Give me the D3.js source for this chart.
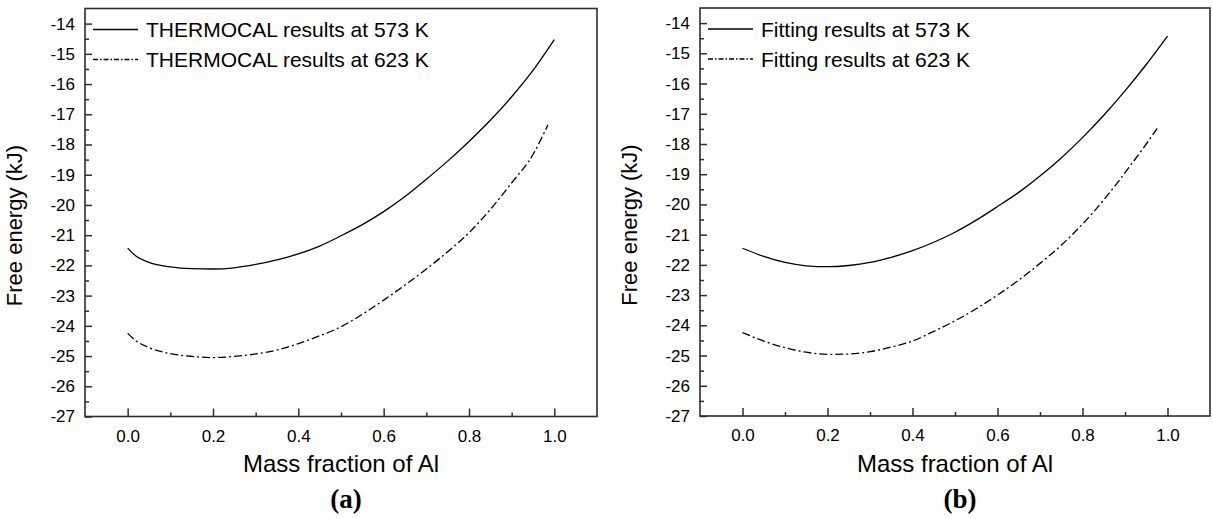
<!DOCTYPE html>
<html>
<head>
<meta charset="utf-8">
<script src="https://cdn.jsdelivr.net/npm/d3@7"></script>
<style>
  html, body { margin: 0; padding: 0; background: #fff; }
  svg { display: block; }
  text { font-family: "Liberation Sans", Arial, sans-serif; fill: #000; }
</style>
</head>
<body>
<svg id="chart" width="1213" height="518"></svg>
<script>
// ---------- data ----------
const xTicks = [0.0, 0.2, 0.4, 0.6, 0.8, 1.0];
const yTicks = [-27, -26, -25, -24, -23, -22, -21, -20, -19, -18, -17, -16, -15, -14];

const xA573 = [0, 0.02, 0.05, 0.1, 0.15, 0.2, 0.25, 0.3, 0.35, 0.4, 0.45, 0.5, 0.55, 0.6, 0.65, 0.7, 0.75, 0.8, 0.85, 0.9, 0.95, 1.0];
const thermo573 = [-21.43, -21.7, -21.9, -22.05, -22.11, -22.12, -22.08, -21.97, -21.82, -21.62, -21.36, -21.02, -20.65, -20.22, -19.72, -19.15, -18.55, -17.9, -17.2, -16.42, -15.55, -14.53];
const xA623 = [0, 0.02, 0.05, 0.1, 0.15, 0.2, 0.25, 0.3, 0.35, 0.4, 0.45, 0.5, 0.55, 0.6, 0.65, 0.7, 0.75, 0.8, 0.85, 0.9, 0.95, 0.985];
const thermo623 = [-24.25, -24.5, -24.72, -24.92, -25.01, -25.05, -25.01, -24.93, -24.8, -24.59, -24.33, -24.03, -23.62, -23.15, -22.65, -22.12, -21.55, -20.92, -20.15, -19.27, -18.33, -17.35];

const xB573 = [0, 0.05, 0.1, 0.15, 0.2, 0.25, 0.3, 0.35, 0.4, 0.45, 0.5, 0.55, 0.6, 0.65, 0.7, 0.75, 0.8, 0.85, 0.9, 0.95, 1.0];
const fit573 = [-21.45, -21.72, -21.92, -22.03, -22.06, -22.02, -21.92, -21.75, -21.53, -21.25, -20.92, -20.52, -20.07, -19.6, -19.06, -18.46, -17.79, -17.05, -16.24, -15.37, -14.43];
const xB623 = [0, 0.05, 0.1, 0.15, 0.2, 0.25, 0.3, 0.35, 0.4, 0.45, 0.5, 0.55, 0.6, 0.65, 0.7, 0.75, 0.8, 0.85, 0.9, 0.95, 0.98];
const fit623 = [-24.24, -24.52, -24.74, -24.89, -24.96, -24.95, -24.87, -24.72, -24.52, -24.2, -23.85, -23.45, -23.0, -22.5, -21.95, -21.35, -20.65, -19.85, -18.95, -18.0, -17.4];

const legendA = ["THERMOCAL results at 573 K", "THERMOCAL results at 623 K"];
const legendB = ["Fitting results at 573 K", "Fitting results at 623 K"];
const xTitle = "Mass fraction of Al";
const yTitle = "Free energy (kJ)";

// ---------- drawing ----------
const svg = d3.select("#chart");
const frameColor = "#2e2e2e";
const dashPattern = "8,3,2,3";

function panel(opts) {
  const x = d3.scaleLinear().domain([-0.1, 1.1]).range([opts.left, opts.right]);
  const y = d3.scaleLinear().domain([-27, -13.5]).range([opts.bottom, opts.top]);
  const g = svg.append("g");

  // frame
  g.append("rect")
    .attr("x", opts.left).attr("y", opts.top)
    .attr("width", opts.right - opts.left).attr("height", opts.bottom - opts.top)
    .attr("fill", "none").attr("stroke", frameColor).attr("stroke-width", 1.6);

  // x axis (ticks inward)
  const xMinor = d3.range(-0.1, 1.101, 0.1).map(v => +v.toFixed(2)).filter(v => v > -0.1 && v < 1.1 && !xTicks.some(t => Math.abs(t - v) < 1e-6));
  const xAxis = d3.axisBottom(x).tickValues(xTicks).tickSize(-8).tickPadding(13).tickFormat(d3.format(".1f"));
  const gx = g.append("g").attr("transform", `translate(0,${opts.bottom})`).call(xAxis);
  gx.select(".domain").remove();
  gx.selectAll("line").attr("stroke", frameColor).attr("stroke-width", 1.5);
  gx.selectAll("text").attr("font-size", 17).attr("font-family", "Liberation Sans, Arial, sans-serif").attr("fill", "#000");
  const gxm = g.append("g").attr("transform", `translate(0,${opts.bottom})`)
    .call(d3.axisBottom(x).tickValues(xMinor).tickSize(-4).tickFormat(""));
  gxm.select(".domain").remove();
  gxm.selectAll("line").attr("stroke", frameColor).attr("stroke-width", 1.5);

  // y axis
  const yMinor = d3.range(-26.5, -13.5, 1);
  const yAxis = d3.axisLeft(y).tickValues(yTicks).tickSize(-7).tickPadding(10).tickFormat(d => String(d));
  const gy = g.append("g").attr("transform", `translate(${opts.left},0)`).call(yAxis);
  gy.select(".domain").remove();
  gy.selectAll("line").attr("stroke", frameColor).attr("stroke-width", 1.5);
  gy.selectAll("text").attr("font-size", 17).attr("font-family", "Liberation Sans, Arial, sans-serif").attr("fill", "#000");
  const gym = g.append("g").attr("transform", `translate(${opts.left},0)`)
    .call(d3.axisLeft(y).tickValues(yMinor).tickSize(-4).tickFormat(""));
  gym.select(".domain").remove();
  gym.selectAll("line").attr("stroke", frameColor).attr("stroke-width", 1.5);

  // curves
  const line = d3.line().x(d => x(d[0])).y(d => y(d[1])).curve(d3.curveMonotoneX);
  g.append("path").datum(opts.xs1.map((v, i) => [v, opts.ys1[i]]))
    .attr("d", line).attr("fill", "none").attr("stroke", "#000").attr("stroke-width", 1.3);
  g.append("path").datum(opts.xs2.map((v, i) => [v, opts.ys2[i]]))
    .attr("d", line).attr("fill", "none").attr("stroke", "#000").attr("stroke-width", 1.3)
    .attr("stroke-dasharray", dashPattern);

  // legend
  const lx0 = opts.left + 8, lx1 = opts.left + 53, ltx = opts.left + 61;
  const rows = [opts.top + 21, opts.top + 51];
  opts.legend.forEach((lab, i) => {
    g.append("line").attr("x1", lx0).attr("x2", lx1).attr("y1", rows[i]).attr("y2", rows[i])
      .attr("stroke", "#000").attr("stroke-width", 1.3)
      .attr("stroke-dasharray", i === 1 ? "5,2,1.5,2" : null);
    g.append("text").attr("x", ltx).attr("y", rows[i]).attr("dy", "0.36em")
      .attr("font-size", 21).text(lab);
  });

  // titles
  g.append("text").attr("x", (opts.left + opts.right) / 2).attr("y", 472)
    .attr("text-anchor", "middle").attr("font-size", 24).text(xTitle);
  g.append("text")
    .attr("transform", `translate(${opts.left - 63},${(opts.top + opts.bottom) / 2 + 13}) rotate(-90)`)
    .attr("text-anchor", "middle").attr("font-size", 22).text(yTitle);
  g.append("text").attr("x", (opts.left + opts.right) / 2 + 5).attr("y", 508)
    .attr("text-anchor", "middle").attr("font-size", 27).attr("font-weight", "bold")
    .style("font-family", "Liberation Serif, Times New Roman, serif").text(opts.tag);
}

panel({ left: 85, right: 597, top: 8.5, bottom: 416.5,
  xs1: xA573, ys1: thermo573, xs2: xA623, ys2: thermo623, legend: legendA, tag: "(a)" });
panel({ left: 700, right: 1210, top: 8, bottom: 416,
  xs1: xB573, ys1: fit573, xs2: xB623, ys2: fit623, legend: legendB, tag: "(b)" });
</script>
</body>
</html>
